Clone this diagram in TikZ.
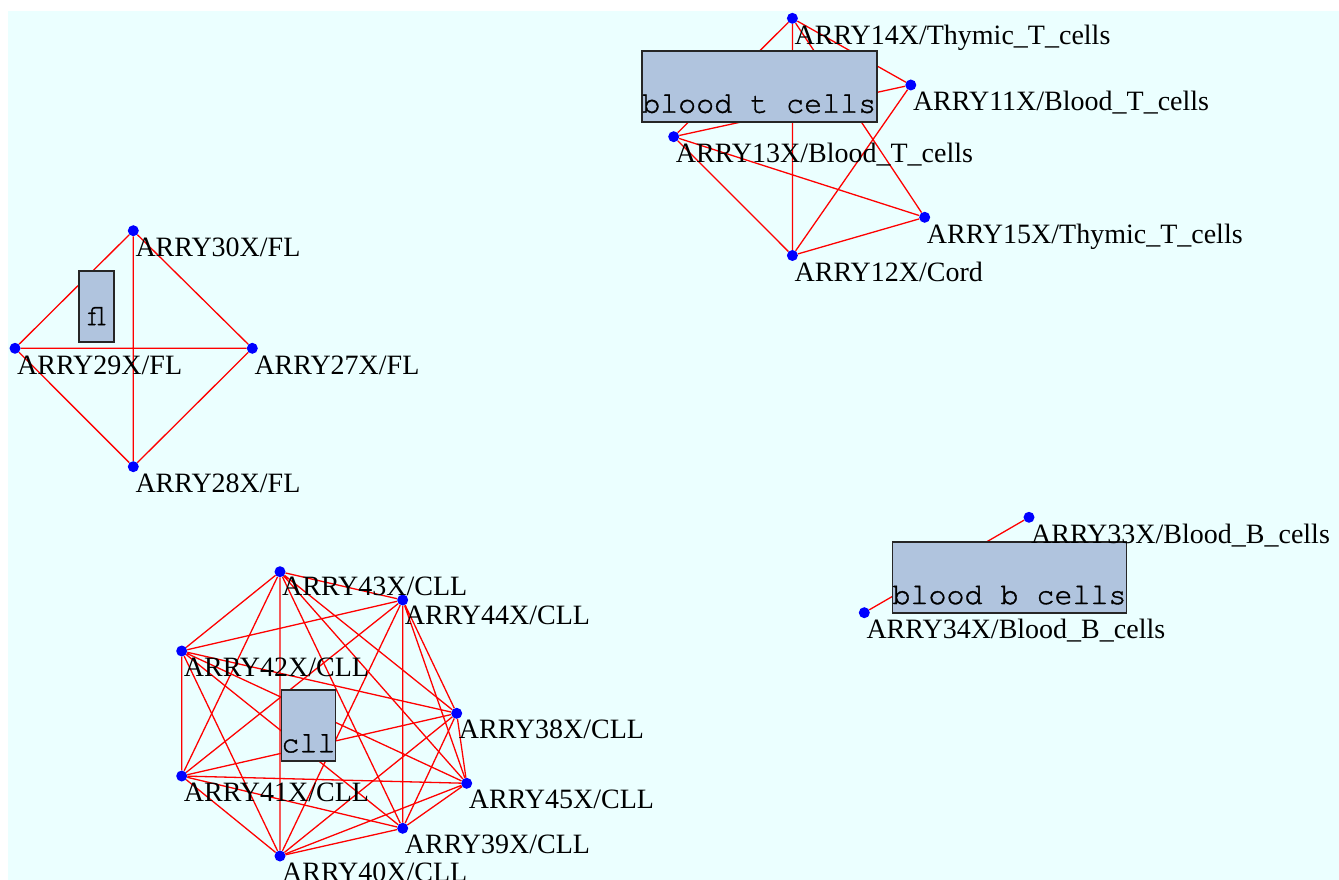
\documentclass[tikz,border=0pt]{standalone}
\usepackage{fontspec}
\setmainfont{Liberation Serif}
\setmonofont[FakeBold=1.2]{TeX Gyre Cursor}
\pgfdeclarelayer{bg}
\pgfdeclarelayer{edges}
\pgfsetlayers{bg,edges,main}
\definecolor{bgcyan}{RGB}{235,255,255}
\definecolor{boxblue}{RGB}{176,196,222}
\tikzstyle{dot} = [circle,fill=blue,inner sep=0pt,minimum size=11pt]

\begin{document}
\begin{tikzpicture}
		[x=1pt,y=-1pt,
		grp/.style={
		draw=black!85,
		line width=1.8pt,
		fill=boxblue,
		inner xsep=0pt,inner ysep=0pt,
		text height=62pt,text depth=9pt,
		font=\ttfamily\fontsize{30}{30}\selectfont},
		lbl/.style={anchor=base west,inner sep=0pt,font=\fontsize{28}{30}\selectfont},
		edge/.style={red,line width=1.3pt}
		]
		\useasboundingbox (0,0) rectangle (1339,880);
		\begin{pgfonlayer}{bg}
		\fill[white] (0,0) rectangle (1339,880);
		\fill[bgcyan] (8,11) rectangle (1339,880);
		\end{pgfonlayer}
		% blood t cells
		\node[dot](a14) at (792.4,18.3) {};
		\node[dot](a11) at (910.8,85) {};
		\node[dot](a13) at (673.7,136.7) {};
		\node[dot](a15) at (924.7,217.3) {};
		\node[dot](a12) at (792.4,255.5) {};
		\node[grp,minimum width=235pt](tcells) at (759.2,86.2) {blood t cells};
		\node[lbl](l14) at ([shift={(2,26)}]a14) {ARRY14X/Thymic\_T\_cells};
		\node[lbl](l11) at ([shift={(2,26)}]a11) {ARRY11X/Blood\_T\_cells};
		\node[lbl](l13) at ([shift={(2,26)}]a13) {ARRY13X/Blood\_T\_cells};
		\node[lbl](l15) at ([shift={(2,26)}]a15) {ARRY15X/Thymic\_T\_cells};
		\node[lbl](l12) at ([shift={(2,26)}]a12) {ARRY12X/Cord};
		% fl
		\node[dot](a30) at (133.3,230.7) {};
		\node[dot](a29) at (15,348.3) {};
		\node[dot](a27) at (252.3,348.3) {};
		\node[dot](a28) at (133.3,466.7) {};
		\node[grp,minimum width=35pt,text height=54pt,text depth=17pt](fl) at (96.7,306.7) {fl};
		\node[lbl](l30) at ([shift={(2,26)}]a30) {ARRY30X/FL};
		\node[lbl](l29) at ([shift={(2,26)}]a29) {ARRY29X/FL};
		\node[lbl](l27) at ([shift={(2,26)}]a27) {ARRY27X/FL};
		\node[lbl](l28) at ([shift={(2,26)}]a28) {ARRY28X/FL};
		% blood b cells
		\node[dot](a33) at (1029,517.3) {};
		\node[dot](a34) at (864.3,612.7) {};
		\node[grp,minimum width=234pt](bcells) at (1009.5,577.5) {blood b cells};
		\node[lbl](l33) at ([shift={(2,26)}]a33) {ARRY33X/Blood\_B\_cells};
		\node[lbl](l34) at ([shift={(2,26)}]a34) {ARRY34X/Blood\_B\_cells};
		% cll
		\node[dot](a43) at (280,571.7) {};
		\node[dot](a44) at (402.7,600) {};
		\node[dot](a42) at (181.7,651) {};
		\node[dot](a38) at (456.7,713.3) {};
		\node[dot](a41) at (181.7,776) {};
		\node[dot](a45) at (466.7,783.3) {};
		\node[dot](a39) at (402.7,828.3) {};
		\node[dot](a40) at (280,856) {};
		\node[grp,minimum width=51pt](cll) at (308.5,725.8) {cll};
		\node[lbl](l43) at ([shift={(2,24)}]a43) {ARRY43X/CLL};
		\node[lbl](l44) at ([shift={(2,24)}]a44) {ARRY44X/CLL};
		\node[lbl](l42) at ([shift={(2,25)}]a42) {ARRY42X/CLL};
		\node[lbl](l38) at ([shift={(2,25)}]a38) {ARRY38X/CLL};
		\node[lbl](l41) at ([shift={(2,25)}]a41) {ARRY41X/CLL};
		\node[lbl](l45) at ([shift={(2,25)}]a45) {ARRY45X/CLL};
		\node[lbl](l39) at ([shift={(2,25)}]a39) {ARRY39X/CLL};
		\node[lbl](l40) at ([shift={(2,25)}]a40) {ARRY40X/CLL};
		\begin{pgfonlayer}{edges}
		\draw[edge] (a14)--(a12) (a14)--(a11) (a14)--(a13) (a14)--(a15)
			(a13)--(a11) (a13)--(a15) (a13)--(a12) (a11)--(a12) (a15)--(a12);
		\draw[edge] (a30)--(a29) (a30)--(a27) (a30)--(a28)
			(a29)--(a27) (a29)--(a28) (a27)--(a28);
		\draw[edge] (a33)--(a34);
		\draw[edge] (a43)--(a44) (a43)--(a42) (a43)--(a38) (a43)--(a41)
			(a43)--(a45) (a43)--(a39) (a43)--(a40);
		\draw[edge] (a44)--(a42) (a44)--(a38) (a44)--(a41) (a44)--(a45)
			(a44)--(a39) (a44)--(a40);
		\draw[edge] (a42)--(a38) (a42)--(a41) (a42)--(a45) (a42)--(a39) (a42)--(a40);
		\draw[edge] (a38)--(a41) (a38)--(a45) (a38)--(a39) (a38)--(a40);
		\draw[edge] (a41)--(a45) (a41)--(a39) (a41)--(a40);
		\draw[edge] (a45)--(a39) (a45)--(a40);
		\draw[edge] (a39)--(a40);
		\end{pgfonlayer}
		\end{tikzpicture}
\end{document}
